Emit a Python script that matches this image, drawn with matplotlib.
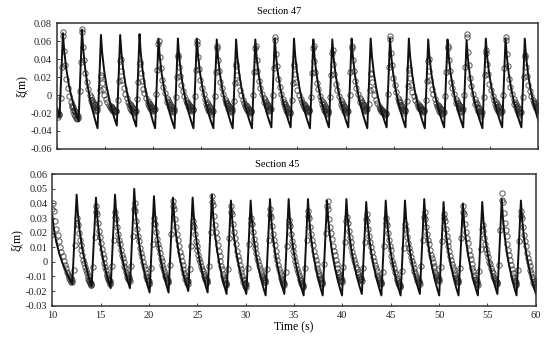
import numpy as np
import matplotlib
matplotlib.use('Agg')
import matplotlib.pyplot as plt
from matplotlib.ticker import FuncFormatter

# ---- Section 47 (upper panel) ----
# simulated line: peak times / peak values / trough after each peak
top_peak_t = [8.6, 10.62, 12.60, 14.57, 16.57, 18.58, 20.55, 22.57, 24.54, 26.61, 28.62,
              30.62, 32.64, 34.64, 36.65, 38.62, 40.63, 42.61, 44.62, 46.58, 48.59,
              50.60, 52.58, 54.58, 56.63, 58.63]
top_peak_v = [0.062, 0.069, 0.073, 0.067, 0.067, 0.068, 0.063, 0.063, 0.063, 0.062, 0.062,
              0.062, 0.063, 0.063, 0.062, 0.062, 0.063, 0.063, 0.063, 0.063, 0.062,
              0.062, 0.061, 0.063, 0.063, 0.063]
top_trough_v = [-0.024, -0.029, -0.037, -0.034, -0.035, -0.037, -0.037, -0.037, -0.037, -0.037,
                -0.037, -0.036, -0.036, -0.037, -0.036, -0.036, -0.037, -0.036, -0.036, -0.037,
                -0.036, -0.036, -0.037, -0.036, -0.036, -0.036]
# measured points: highest and lowest circle level in each cycle
top_meas_peak = [0.050, 0.070, 0.074, 0.022, 0.040, 0.037, 0.060, 0.045, 0.060, 0.055, 0.035,
                 0.055, 0.065, 0.035, 0.055, 0.050, 0.055, 0.025, 0.066, 0.030, 0.040,
                 0.055, 0.068, 0.050, 0.065, 0.045]
top_meas_floor = [-0.024, -0.027, -0.018, -0.019, -0.020, -0.018, -0.019, -0.018, -0.021, -0.019,
                  -0.020, -0.018, -0.022, -0.019, -0.021, -0.020, -0.018, -0.022, -0.020, -0.019,
                  -0.021, -0.019, -0.023, -0.020, -0.022, -0.018]
top_tpl_dt = [-0.22, -0.12, 0.0, 0.04, 0.12, 0.22, 0.36, 0.5, 0.68, 0.85, 0.92, 1.0, 1.05,
              1.1, 1.16, 1.2, 1.25, 1.3, 1.35, 1.4, 1.45, 1.5, 1.55, 1.6]
top_tpl_f = [0.25, 0.6, 0.96, 1.0, 0.78, 0.62, 0.46, 0.36, 0.27, 0.2, 0.14, 0.17, 0.1,
             0.14, 0.06, 0.11, 0.04, 0.09, 0.02, 0.07, 0.0, 0.05, 0.02, 0.04]

# ---- Section 45 (lower panel) ----
bot_peak_t = [10.0, 12.52, 14.52, 16.49, 18.48, 20.52, 22.48, 24.52, 26.52, 28.48, 30.52,
              32.52, 34.45, 36.45, 38.42, 40.42, 42.47, 44.49, 46.48, 48.47, 50.47,
              52.47, 54.47, 56.49, 58.47]
bot_peak_v = [0.032, 0.046, 0.044, 0.046, 0.050, 0.045, 0.044, 0.044, 0.046, 0.042, 0.042,
              0.043, 0.043, 0.043, 0.042, 0.043, 0.041, 0.042, 0.042, 0.043, 0.041,
              0.040, 0.041, 0.043, 0.042]
bot_trough_v = [-0.015, -0.017, -0.018, -0.018, -0.021, -0.021, -0.020, -0.021, -0.022, -0.022,
                -0.023, -0.022, -0.023, -0.023, -0.023, -0.022, -0.023, -0.023, -0.022, -0.023,
                -0.023, -0.023, -0.022, -0.023, -0.022]
bot_meas_peak = [0.040, 0.030, 0.038, 0.034, 0.040, 0.030, 0.042, 0.028, 0.045, 0.038, 0.030,
                 0.036, 0.029, 0.035, 0.042, 0.031, 0.033, 0.030, 0.026, 0.034, 0.033,
                 0.038, 0.025, 0.047, 0.035]
bot_meas_floor = [-0.014, -0.016, -0.015, -0.013, -0.015, -0.014, -0.015, -0.014, -0.016, -0.017,
                  -0.014, -0.016, -0.017, -0.015, -0.014, -0.013, -0.015, -0.017, -0.015, -0.013,
                  -0.014, -0.016, -0.015, -0.016, -0.017]
bot_tpl_dt = [-0.3, -0.15, 0.0, 0.05, 0.12, 0.22, 0.32, 0.42, 0.5, 0.6, 0.7, 0.8, 0.9,
              0.98, 1.06, 1.14, 1.2, 1.26, 1.32, 1.38, 1.42, 1.46, 1.5, 1.52]
bot_tpl_f = [0.22, 0.6, 0.93, 1.0, 0.9, 0.78, 0.68, 0.6, 0.53, 0.45, 0.38, 0.33, 0.27,
             0.22, 0.18, 0.13, 0.1, 0.06, 0.08, 0.03, 0.05, 0.01, 0.03, 0.0]

# decay shape of the simulated line (fraction of the way peak->trough)
decay_u = [0, 0.08, 0.2, 0.35, 0.5, 0.7, 0.85, 1]
decay_f = [1, 0.8, 0.61, 0.44, 0.31, 0.17, 0.08, 0]

PERIOD = 2.0


def trough_time(peak_t, i, rise):
    nxt = peak_t[i + 1] if i + 1 < len(peak_t) else peak_t[i] + PERIOD
    return nxt - rise


def build_line(peak_t, peak_v, trough_v, rise):
    t, v = [], []
    for i in range(len(peak_t)):
        t1 = trough_time(peak_t, i, rise)
        for u, f in zip(decay_u, decay_f):
            t.append(peak_t[i] + u * (t1 - peak_t[i]))
            v.append(trough_v[i] + f * (peak_v[i] - trough_v[i]))
    return t, v


def build_points(peak_t, mpeak, mfloor, tpl_dt, tpl_f, rise, nominal):
    t, v = [], []
    for i in range(len(peak_t)):
        scale = (trough_time(peak_t, i, rise) - peak_t[i]) / nominal
        for dt, f in zip(tpl_dt, tpl_f):
            t.append(peak_t[i] + (dt * scale if dt > 0 else dt))
            v.append(mfloor[i] + f * (mpeak[i] - mfloor[i]))
    return t, v


def fmt(val, pos):
    if abs(val) < 1e-9:
        return '0'
    return '%.2f' % val


def style_axes(ax, ylo, yhi, ystep, show_x):
    ax.set_xlim(10, 60)
    ax.set_ylim(ylo, yhi)
    ax.set_yticks(np.arange(ylo, yhi + ystep / 2, ystep))
    ax.set_xticks(np.arange(10, 61, 5))
    ax.yaxis.set_major_formatter(FuncFormatter(fmt))
    ax.tick_params(direction='in', length=2.5, width=0.6, labelsize=7.5, colors='#222222')
    if not show_x:
        ax.tick_params(axis='x', labelbottom=False)
    for s in ax.spines.values():
        s.set_linewidth(1.1)
        s.set_color('#333333')
    ax.set_ylabel('ξ(m)', fontsize=8.5, labelpad=2)


def main():
    plt.rcParams['font.family'] = ['Liberation Serif', 'DejaVu Serif']
    plt.rcParams['axes.unicode_minus'] = False

    fig = plt.figure(figsize=(5.5, 3.4), dpi=100)
    ax1 = fig.add_axes([0.1036, 0.562, 0.8745, 0.3695])
    ax2 = fig.add_axes([0.095, 0.101, 0.879, 0.3865])

    mk = dict(ls='none', marker='o', ms=3.8, mfc='none', mec='#2a2a2a', mew=0.75, alpha=0.75)

    # upper panel
    pt, pv = build_points(top_peak_t, top_meas_peak, top_meas_floor, top_tpl_dt, top_tpl_f, 0.35, 1.65)
    ax1.plot(pt, pv, **mk)
    lt, lv = build_line(top_peak_t, top_peak_v, top_trough_v, 0.35)
    ax1.plot(lt, lv, color='#111111', lw=1.4)
    style_axes(ax1, -0.06, 0.08, 0.02, False)

    # lower panel
    pt, pv = build_points(bot_peak_t, bot_meas_peak, bot_meas_floor, bot_tpl_dt, bot_tpl_f, 0.45, 1.55)
    ax2.plot(pt, pv, **mk)
    lt, lv = build_line(bot_peak_t, bot_peak_v, bot_trough_v, 0.45)
    ax2.plot(lt, lv, color='#111111', lw=1.4)
    style_axes(ax2, -0.03, 0.06, 0.01, True)
    ax2.set_xlabel('Time (s)', fontsize=8.5, labelpad=1)

    fig.text(279 / 550, 1 - 12 / 340, 'Section 47', ha='center', va='center', fontsize=7.5)
    fig.text(277 / 550, 1 - 164 / 340, 'Section 45', ha='center', va='center', fontsize=7.5)

    fig.savefig('out.png', dpi=100)


if __name__ == '__main__':
    main()
